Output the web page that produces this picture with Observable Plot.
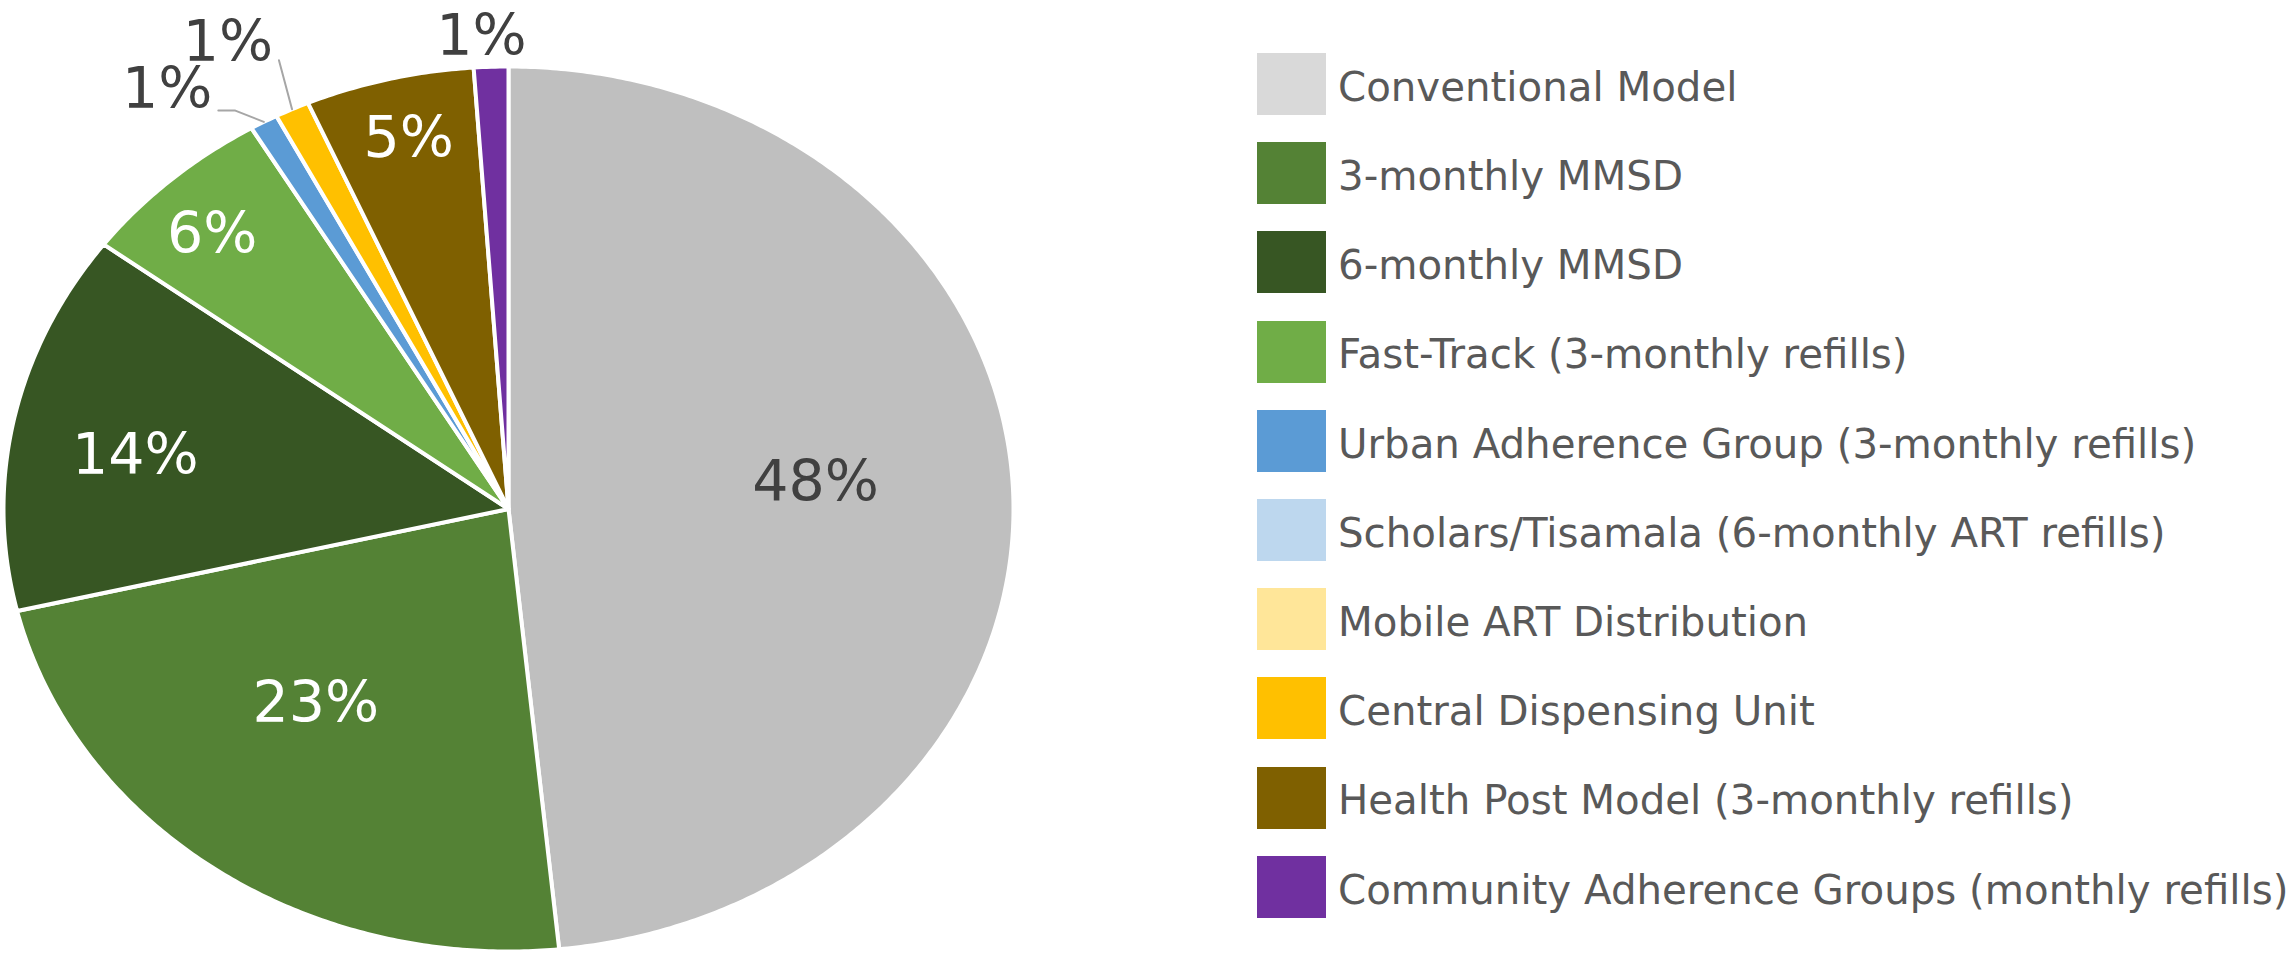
<!DOCTYPE html>
<html>
<head>
<meta charset="utf-8">
<script src="https://cdn.jsdelivr.net/npm/d3@7"></script>
<script src="https://cdn.jsdelivr.net/npm/@observablehq/plot@0.6"></script>
<style>
  html, body { margin: 0; padding: 0; background: #ffffff; }
  #wrap { position: relative; width: 2295px; height: 956px; overflow: hidden; }
  #chart { position: absolute; left: 0; top: 0; }
  #legend { position: absolute; left: 1257px; top: 53px; font-family: "DejaVu Sans", sans-serif; }
  .row { position: absolute; left: 0; display: flex; align-items: center; white-space: nowrap; }
  .sw { width: 69px; height: 62px; flex: none; }
  .lt { margin-left: 12px; font-size: 40.3px; line-height: 1; color: #595959; position: relative; top: 4px; }
</style>
</head>
<body>
<div id="wrap">
  <div id="chart"></div>
  <div id="legend"></div>
</div>
<script>
// ---- data ----
const categories = [
  "Conventional Model",
  "3-monthly MMSD",
  "6-monthly MMSD",
  "Fast-Track (3-monthly refills)",
  "Urban Adherence Group (3-monthly refills)",
  "Scholars/Tisamala (6-monthly ART refills)",
  "Mobile ART Distribution",
  "Central Dispensing Unit",
  "Health Post Model (3-monthly refills)",
  "Community Adherence Groups (monthly refills)"
];
const shares = [48.4, 22.9, 13.9, 6.3, 0.9, 0, 0, 1.1, 5.4, 1.1];
const labels = ["48%", "23%", "14%", "6%", "1%", "", "", "1%", "5%", "1%"];
const sliceColors = ["#BFBFBF", "#548235", "#375623", "#70AD47", "#5B9BD5", "#BDD7EE", "#FFE699", "#FFC000", "#7F6000", "#7030A0"];
const legendColors = ["#D9D9D9", "#548235", "#375623", "#70AD47", "#5B9BD5", "#BDD7EE", "#FFE699", "#FFC000", "#7F6000", "#7030A0"];

// ---- label layout (radius fraction, angle nudge in degrees, text colour, leader style) ----
const labelRadius = [0.611, 0.583, 0.749, 0.853, 1.164, 0, 0, 1.192, 0.86, 1.068];
const labelNudge  = [-2.7, 5.4, -2.4, -1.5, -6.5, 0, 0, -2.4, 0.4, -0.9];
const labelDark   = [true, false, false, false, true, false, false, true, false, true];
const leaderKind  = ["", "", "", "", "elbow", "", "", "straight", "", ""];

// ---- geometry in unit-pie space ----
const X0 = 3, X1 = 1013, Y0 = 66, Y1 = 951;
const ux = 2 / (X1 - X0), uy = 2 / (Y1 - Y0); // units per pixel

const arcs = d3.pie().sort(null).value(d => d).startAngle(0).endAngle(2 * Math.PI)(shares);

const slicePts = [];
arcs.forEach((a, i) => {
  if (shares[i] <= 0) return;
  const name = categories[i];
  slicePts.push({name, x: 0, y: 0});
  const n = Math.max(2, Math.ceil((a.endAngle - a.startAngle) / (Math.PI / 360)));
  for (let k = 0; k <= n; k++) {
    const t = a.startAngle + (a.endAngle - a.startAngle) * k / n;
    slicePts.push({name, x: Math.sin(t), y: -Math.cos(t)});
  }
});

const textData = [];
const leaderPts = [];
arcs.forEach((a, i) => {
  if (!labels[i]) return;
  const mid = (a.startAngle + a.endAngle) / 2;
  const t = mid + labelNudge[i] * Math.PI / 180;
  const r = labelRadius[i];
  const lx = Math.sin(t) * r, ly = -Math.cos(t) * r;
  textData.push({name: categories[i], x: lx, y: ly, text: labels[i], dark: labelDark[i]});
  if (leaderKind[i]) {
    const rim = {name: categories[i], x: Math.sin(mid), y: -Math.cos(mid)};
    if (leaderKind[i] === "elbow") {
      leaderPts.push({name: categories[i], x: lx + 51 * ux, y: ly + 21 * uy});
      leaderPts.push({name: categories[i], x: lx + 68 * ux, y: ly + 21 * uy});
      leaderPts.push(rim);
    } else {
      leaderPts.push({name: categories[i], x: lx + 51 * ux, y: ly + 18 * uy});
      leaderPts.push(rim);
    }
  }
});

const chart = Plot.plot({
  width: 1240,
  height: 956,
  margin: 0,
  style: {background: "transparent"},
  x: {domain: [-1, 1], range: [X0, X1], axis: null},
  y: {domain: [-1, 1], range: [Y0, Y1], axis: null},
  color: {type: "ordinal", domain: categories, range: sliceColors},
  marks: [
    Plot.line(slicePts, {x: "x", y: "y", z: "name", fill: "name", stroke: "white", strokeWidth: 4, strokeLinejoin: "round", curve: "linear-closed"}),
    Plot.line(leaderPts, {x: "x", y: "y", z: "name", stroke: "#A6A6A6", strokeWidth: 2}),
    Plot.text(textData.filter(d => d.dark), {x: "x", y: "y", text: "text", fill: "#404040", fontSize: 57, fontFamily: "DejaVu Sans", textAnchor: "middle"}),
    Plot.text(textData.filter(d => !d.dark), {x: "x", y: "y", text: "text", fill: "#FFFFFF", fontSize: 57, fontFamily: "DejaVu Sans", textAnchor: "middle"})
  ]
});
document.getElementById("chart").appendChild(chart);

// ---- legend ----
const legend = document.getElementById("legend");
categories.forEach((c, i) => {
  const row = document.createElement("div");
  row.className = "row";
  row.style.top = (i * 89.2) + "px";
  const sw = document.createElement("div");
  sw.className = "sw";
  sw.style.background = legendColors[i];
  const lt = document.createElement("div");
  lt.className = "lt";
  lt.textContent = c;
  row.appendChild(sw);
  row.appendChild(lt);
  legend.appendChild(row);
});
</script>
</body>
</html>
